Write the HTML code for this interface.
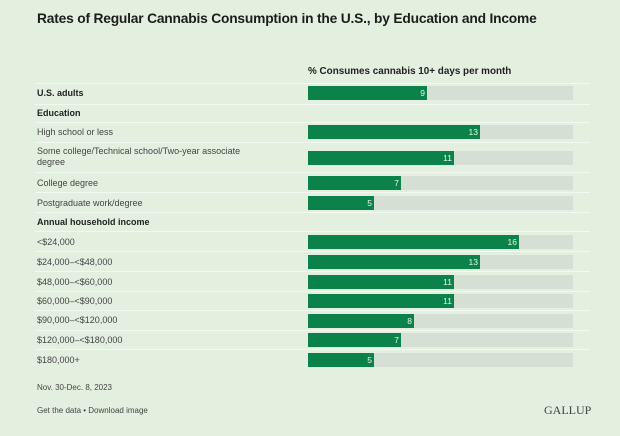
<!DOCTYPE html>
<html><head><style>
body{margin:0;width:620px;height:436px;background:#e3f0e0;font-family:"Liberation Sans",sans-serif;position:relative;overflow:hidden;color:#222}
.t{position:absolute;left:37px;top:11px;font-size:13.8px;font-weight:bold;color:#1c1c1c;letter-spacing:-0.2px}
.h{position:absolute;left:308px;top:66px;font-size:9.9px;font-weight:bold}
.row{position:absolute;left:35px;width:555px;border-top:1.5px solid #f4f8f3}
.l{position:absolute;left:37px;font-size:9px;color:#444;line-height:11px}
.b{font-weight:bold;color:#222}
.tr{position:absolute;left:308px;width:265px;height:14px;background:#d6dfd4}
.bar{position:absolute;left:0;top:0;height:14px;background:#0b8249;color:#e8f5ea;font-size:8.5px;text-align:right;line-height:14px;box-sizing:border-box;padding-right:2px}
.f{position:absolute;left:37px;font-size:8px;color:#444}
</style></head><body>
<div class="t">Rates of Regular Cannabis Consumption in the U.S., by Education and Income</div>
<div class="h">% Consumes cannabis 10+ days per month</div>

<div class="row" style="top:83px"></div>
<div class="l b" style="top:88px">U.S. adults</div>
<div class="tr" style="top:86px"><div class="bar" style="width:119px">9</div></div>

<div class="row" style="top:104px"></div>
<div class="l b" style="top:108px">Education</div>

<div class="row" style="top:122px"></div>
<div class="l" style="top:127px">High school or less</div>
<div class="tr" style="top:125px"><div class="bar" style="width:172px">13</div></div>

<div class="row" style="top:142px"></div>
<div class="l" style="top:146px;width:230px">Some college/Technical school/Two-year associate degree</div>
<div class="tr" style="top:151px"><div class="bar" style="width:146px">11</div></div>

<div class="row" style="top:172px"></div>
<div class="l" style="top:178px">College degree</div>
<div class="tr" style="top:176px"><div class="bar" style="width:93px">7</div></div>

<div class="row" style="top:192px"></div>
<div class="l" style="top:198px">Postgraduate work/degree</div>
<div class="tr" style="top:196px"><div class="bar" style="width:66px">5</div></div>

<div class="row" style="top:212px"></div>
<div class="l b" style="top:217px">Annual household income</div>

<div class="row" style="top:231px"></div>
<div class="l" style="top:237px">&lt;$24,000</div>
<div class="tr" style="top:235px"><div class="bar" style="width:211px">16</div></div>

<div class="row" style="top:251px"></div>
<div class="l" style="top:257px">$24,000–&lt;$48,000</div>
<div class="tr" style="top:255px"><div class="bar" style="width:172px">13</div></div>

<div class="row" style="top:271px"></div>
<div class="l" style="top:277px">$48,000–&lt;$60,000</div>
<div class="tr" style="top:275px"><div class="bar" style="width:146px">11</div></div>

<div class="row" style="top:291px"></div>
<div class="l" style="top:296px">$60,000–&lt;$90,000</div>
<div class="tr" style="top:294px"><div class="bar" style="width:146px">11</div></div>

<div class="row" style="top:310px"></div>
<div class="l" style="top:315px">$90,000–&lt;$120,000</div>
<div class="tr" style="top:314px"><div class="bar" style="width:106px">8</div></div>

<div class="row" style="top:330px"></div>
<div class="l" style="top:335px">$120,000–&lt;$180,000</div>
<div class="tr" style="top:333px"><div class="bar" style="width:93px">7</div></div>

<div class="row" style="top:349px"></div>
<div class="l" style="top:355px">$180,000+</div>
<div class="tr" style="top:353px"><div class="bar" style="width:66px">5</div></div>

<div class="f" style="top:383px">Nov. 30-Dec. 8, 2023</div>
<div class="f" style="top:406px">Get the data • Download image</div>
<div style="position:absolute;left:544px;top:403px;font-family:'Liberation Serif',serif;font-size:12px;color:#444">GALLUP</div>
</body></html>
